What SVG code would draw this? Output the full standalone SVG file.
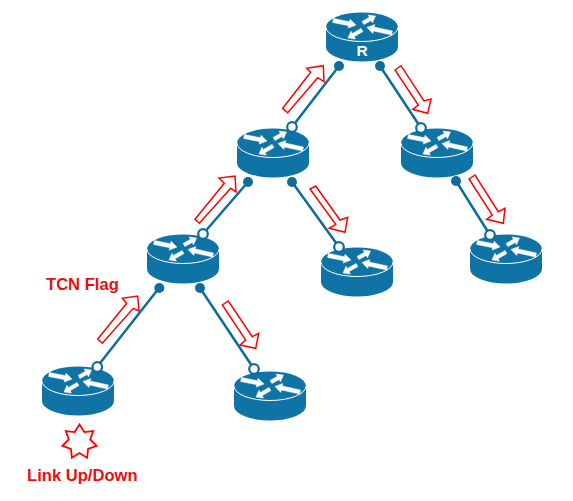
<svg xmlns="http://www.w3.org/2000/svg" width="573" height="501" viewBox="0 0 573 501">
<style>
.body{fill:#0f74a5}
.rim{fill:none;stroke:#fff;stroke-width:1}
.ar{fill:#fff;stroke:#fff;stroke-width:.5}
.ln{stroke:#0f6d9c;stroke-width:2.500;fill:none}
.dot{fill:#0f6d9c}
.open{fill:#fff;stroke:#0f6d9c;stroke-width:2.200}
.flag{fill:#fff;stroke:#f00;stroke-width:1.500}
.lbl{font-family:"Liberation Sans",Arial,sans-serif;font-weight:700;font-size:16.6px;fill:#e81010}
.rname{font-family:"Liberation Sans",Arial,sans-serif;font-weight:700;font-size:15.5px;fill:#fff;text-anchor:middle}
</style>
<defs>
<g id="router">
<path class="body" d="M-36 0A36 14.500 0 0 1 36 0V20A36 14.500 0 0 1 -36 20Z"/>
<path class="rim" d="M-36 0A36 14.500 0 0 0 36 0"/>
<path class="ar" d="M-28.600-8.500L-12.500-5.300-12-7.700-6-2-13.800 1.100-13.300-1.300-29.400-4.500Z"/>
<path class="ar" d="M.1-5.600L7.400-9.700 6.100-12 13.500-11 10.500-4.200 9.200-6.500 1.900-2.400Z"/>
<path class="ar" d="M5 .5L12.800-2.400 12.200 0 30.400 4 29.600 8 11.400 4 10.800 6.400Z"/>
<path class="ar" d="M-.9 1.400L-9.700 6.500-11 4.200-14 11-6.600 12-7.900 9.700 .9 4.600Z"/>
</g>
</defs>
<g id="connectors">
<path class="ln" d="M339 66L292 127M380 66L421 128M248 182L203 234M292 182L339 247M456 181L490 235M159 288L97 367M200 288L254 369"/>
<g class="dot">
<circle cx="339" cy="66" r="5"/><circle cx="380" cy="66" r="5"/><circle cx="248" cy="182" r="5"/><circle cx="292" cy="182" r="5"/><circle cx="456" cy="181" r="5"/><circle cx="159.300" cy="288" r="5"/><circle cx="200" cy="288" r="5"/>
</g>
</g>
<g id="node-r"><use href="#router" x="362" y="27"/><text class="rname" x="362" y="56">R</text></g>
<g id="node-a"><use href="#router" x="273" y="143"/></g>
<g id="node-b"><use href="#router" x="437" y="143"/></g>
<g id="node-c"><use href="#router" x="183" y="249"/></g>
<g id="node-d"><use href="#router" x="357" y="262"/></g>
<g id="node-e"><use href="#router" x="506" y="249"/></g>
<g id="node-f"><use href="#router" x="78" y="381"/></g>
<g id="node-g"><use href="#router" x="270" y="386"/></g>
<g id="ports" class="open">
<circle cx="292" cy="127" r="4.800"/><circle cx="421" cy="128" r="4.800"/><circle cx="203" cy="234" r="4.800"/><circle cx="339" cy="247" r="4.800"/><circle cx="490" cy="235" r="4.800"/><circle cx="97.300" cy="367" r="4.800"/><circle cx="254" cy="369" r="4.800"/>
</g>
<g id="flags">
<path class="flag" d="M282.700 108.300L310.700 72.300 306.700 68.300 323.300 65.700 324 81.700 317.700 77.700 287.700 112.700Z"/>
<path class="flag" d="M195 219.300L224.300 183.300 219 178 235 176 236 191.700 230.700 188.300 199.300 223.300Z"/>
<path class="flag" d="M97.700 339L126.700 303.300 122.300 298.300 137.700 296 139 311 133.300 308.300 102.300 343.300Z"/>
<path class="flag" d="M395 70L401 65.700 424 101 431 99 427.700 113.300 412.700 109.300 418.300 105Z"/>
<path class="flag" d="M310 189L315.700 186 340 220 347.700 217.300 345 232.300 329.300 228.300 335.700 224.300Z"/>
<path class="flag" d="M469 179L475 175 498.300 211.700 505 208.300 503.300 223.300 486.700 219.300 492.300 215Z"/>
<path class="flag" d="M222.300 305L228.300 301 252.300 336.700 258.700 333.300 255.700 348.300 240 345 245.700 340Z"/>
</g>
<g id="event">
<path fill="#fff" stroke="#f00" stroke-width="1.800" d="M79.500 424.500L84.300 432.100 93.200 431.100 90.200 439.500 96.600 445.900 88.100 448.900 87.100 457.800 79.500 453 71.900 457.800 70.900 448.900 62.400 445.900 68.800 439.500 65.800 431.100 74.700 432.100Z"/>
</g>
<text class="lbl" x="46" y="290">TCN Flag</text>
<text class="lbl" x="27" y="481">Link Up/Down</text>
</svg>
